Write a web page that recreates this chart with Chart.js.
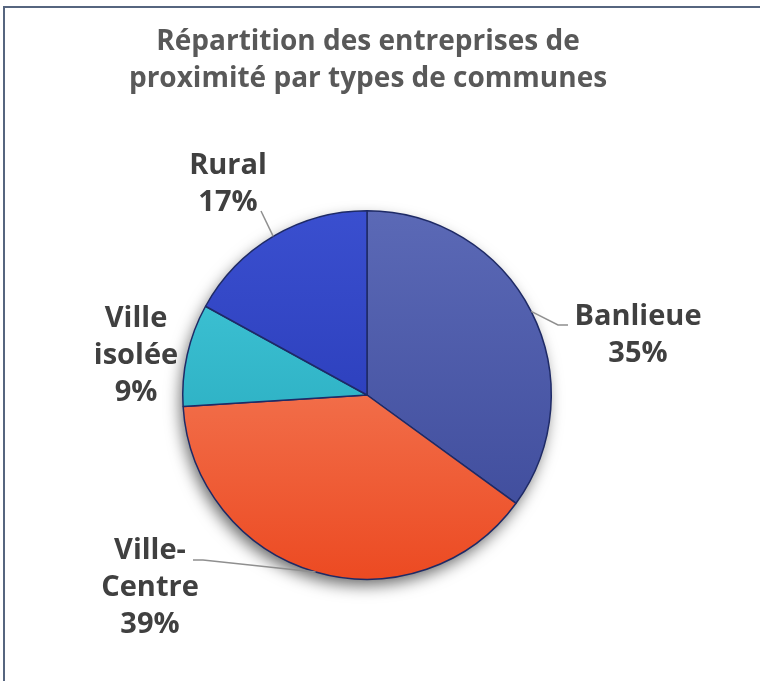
<!DOCTYPE html>
<html>
<head>
<meta charset="utf-8">
<script src="https://cdn.jsdelivr.net/npm/chart.js@4.4.1/dist/chart.umd.min.js"></script>
<style>
    html, body { margin: 0; padding: 0; background: #fff; }
    #wrap { width: 760px; height: 681px; }
</style>
</head>
<body>
<div id="wrap"><canvas id="pieChart" width="760" height="681"></canvas></div>
<script>
// --- Data
const categories = ['Banlieue', 'Ville-Centre', 'Ville isolée', 'Rural'];
const shares = [35, 39, 9, 17];
const nameLines = [['Banlieue'], ['Ville-', 'Centre'], ['Ville', 'isolée'], ['Rural']];
const titleLines = ['Répartition des entreprises de', 'proximité par types de communes'];

// colour ramps (top, bottom) per slice
const sliceColors = [
    ['#5b69b6', '#3b4898'],
    ['#f7906f', '#ec4a22'],
    ['#45cadb', '#1d9fb4'],
    ['#3a4fcf', '#2233ae']
];

// where each label sits, and the leader line bend
const labelPlacement = [
    { x: 638, y: 317, elbow: [558, 325], end: [568, 325] },
    { x: 150, y: 551, elbow: [203, 560], end: [193, 560] },
    { x: 136, y: 319 },
    { x: 228, y: 166, end: [261, 211] }
];

const fontFamily = '"Open Sans", "DejaVu Sans", sans-serif';

const framePlugin = {
    id: 'frameAndText',
    beforeDraw(chart) {
        const ctx = chart.ctx;
        ctx.save();
        ctx.fillStyle = '#fff';
        ctx.fillRect(0, 0, chart.width, chart.height);
        ctx.strokeStyle = '#56657f';
        ctx.lineWidth = 2;
        ctx.strokeRect(4, 7, chart.width + 20, chart.height + 20);
        ctx.restore();
    },
    beforeDatasetsDraw(chart) {
        // soft drop shadow under the pie
        const arc = chart.getDatasetMeta(0).data[0];
        if (!arc) return;
        const ctx = chart.ctx;
        ctx.save();
        ctx.shadowColor = 'rgba(0,0,0,0.6)';
        ctx.shadowBlur = 16;
        ctx.shadowOffsetX = -3;
        ctx.shadowOffsetY = 7;
        ctx.fillStyle = '#888';
        ctx.beginPath();
        ctx.arc(arc.x, arc.y, arc.outerRadius - 1, 0, Math.PI * 2);
        ctx.fill();
        ctx.restore();
    },
    afterDraw(chart) {
        const ctx = chart.ctx;
        ctx.save();
        ctx.textAlign = 'center';
        ctx.textBaseline = 'middle';

        // title
        ctx.fillStyle = '#595959';
        ctx.font = 'bold 28px ' + fontFamily;
        titleLines.forEach((t, i) => ctx.fillText(t, 368, 42 + i * 37));

        // leader lines from the middle of each slice edge
        const meta = chart.getDatasetMeta(0);
        ctx.strokeStyle = '#8f8f8f';
        ctx.lineWidth = 1.5;
        meta.data.forEach((arc, i) => {
            const p = labelPlacement[i];
            if (!p.end) return;
            const mid = (arc.startAngle + arc.endAngle) / 2;
            const ex = arc.x + Math.cos(mid) * arc.outerRadius;
            const ey = arc.y + Math.sin(mid) * arc.outerRadius;
            ctx.beginPath();
            ctx.moveTo(ex, ey);
            if (p.elbow) ctx.lineTo(p.elbow[0], p.elbow[1]);
            ctx.lineTo(p.end[0], p.end[1]);
            ctx.stroke();
        });

        // labels
        ctx.fillStyle = '#404040';
        ctx.font = 'bold 29px ' + fontFamily;
        categories.forEach((c, i) => {
            const p = labelPlacement[i];
            const lines = nameLines[i].concat([shares[i] + '%']);
            lines.forEach((t, j) => ctx.fillText(t, p.x, p.y + j * 37));
        });
        ctx.restore();
    }
};

function sliceFill(context) {
    const i = context.dataIndex;
    const area = context.chart.chartArea;
    if (!area) return sliceColors[i][1];
    const g = context.chart.ctx.createLinearGradient(0, area.top, 0, area.bottom);
    g.addColorStop(0, sliceColors[i][0]);
    g.addColorStop(1, sliceColors[i][1]);
    return g;
}

new Chart(document.getElementById('pieChart').getContext('2d'), {
    type: 'pie',
    data: {
        labels: categories,
        datasets: [{
            data: shares,
            backgroundColor: sliceFill,
            borderColor: '#1e2a66',
            borderWidth: 1.5
        }]
    },
    options: {
        responsive: false,
        animation: false,
        layout: { padding: { left: 182, right: 208, top: 210, bottom: 101 } },
        plugins: {
            legend: { display: false },
            title: { display: false },
            tooltip: { enabled: false }
        }
    },
    plugins: [framePlugin]
});
</script>
</body>
</html>
